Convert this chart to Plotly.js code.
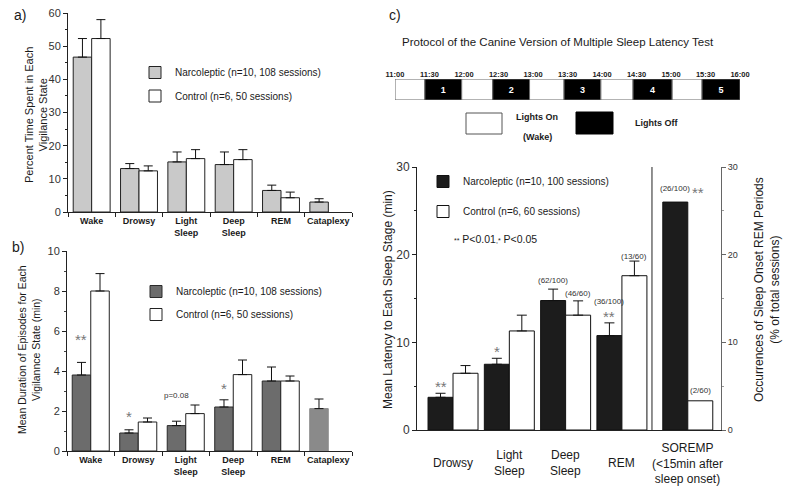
<!DOCTYPE html>
<html>
<head>
<meta charset="utf-8">
<script src="https://cdn.plot.ly/plotly-3.0.1.min.js"></script>
<style>html,body{margin:0;padding:0;background:#fff;}#chart{width:789px;height:489px;}</style>
</head>
<body>
<div id="chart"></div>
<script>
// ---------- data ----------
const statesAB = ['Wake', 'Drowsy', 'Light Sleep', 'Deep Sleep', 'REM', 'Cataplexy'];
const stateLabelsAB = ['Wake', 'Drowsy', 'Light<br>Sleep', 'Deep<br>Sleep', 'REM', 'Cataplexy'];

// panel a: percent time spent in each vigilance state
const narcPct = [46.7, 13.1, 15.1, 14.3, 6.5, 3.0];
const narcPctSem = [5.6, 1.5, 3.0, 3.8, 1.6, 1.0];
const ctrlPct = [52.3, 12.4, 16.1, 15.8, 4.3, null];
const ctrlPctSem = [5.7, 1.5, 2.7, 3.0, 1.7, null];

// panel b: mean duration of episodes (min)
const narcDur = [3.8, 0.9, 1.27, 2.2, 3.5, 2.12];
const narcDurSem = [0.63, 0.16, 0.22, 0.36, 0.7, 0.48];
const ctrlDur = [8.0, 1.45, 1.87, 3.82, 3.5, null];
const ctrlDurSem = [0.87, 0.2, 0.43, 0.73, 0.25, null];

// panel c: mean latency to each sleep stage (min)
const stagesC = ['Drowsy', 'Light Sleep', 'Deep Sleep', 'REM'];
const stageLabelsC = ['Drowsy', 'Light<br>Sleep', 'Deep<br>Sleep', 'REM', 'SOREMP<br>(&lt;15min after<br>sleep onset)'];
const narcLat = [3.73, 7.5, 14.77, 10.77];
const narcLatSem = [0.46, 0.68, 1.3, 1.45];
const ctrlLat = [6.47, 11.3, 13.1, 17.6];
const ctrlLatSem = [0.88, 1.8, 1.63, 1.67];
// SOREMP occurrences (% of total sessions)
const soremp = ['SOREMP'];
const narcSoremp = [26];
const ctrlSoremp = [3.33];

// protocol timeline (minutes after 11:00)
const protoStart = [0, 26, 58, 85, 117, 147, 179, 207, 241, 267];
const protoEnd = [26, 58, 85, 117, 147, 179, 207, 241, 267, 300];
const protoLights = ['on', 'off', 'on', 'off', 'on', 'off', 'on', 'off', 'on', 'off'];
const protoNap = ['', '1', '', '2', '', '3', '', '4', '', '5'];
const timeTickVals = [0, 30, 60, 90, 120, 150, 180, 210, 240, 270, 300];
const timeTickText = ['11:00', '11:30', '12:00', '12:30', '13:00', '13:30', '14:00', '14:30', '15:00', '15:30', '16:00'];

// ---------- helpers ----------
const W = 789, H = 489;
const px = v => v / W;
const py = v => 1 - v / H;
const FONT = 'Liberation Sans, Arial, sans-serif';
const TXT = '#1a1a1a';
const zeros = n => new Array(n).fill(0);

const bwAB = 0.39;
const bwC = 0.444;
const posC = [0, 1, 2, 3];      // category positions on panel c axis
const posSoremp = [4.17];

function errUp(arr, w) {
  return {type: 'data', symmetric: false, array: arr, arrayminus: zeros(arr.length),
          color: '#111', thickness: 1, width: w};
}

const traces = [
  // panel a
  {type: 'bar', x: statesAB, y: narcPct, xaxis: 'x', yaxis: 'y', offset: -bwAB, width: bwAB,
   name: 'Narcoleptic (n=10, 108 sessions)', legend: 'legend', legendgroup: 'a1',
   marker: {color: '#c9c9c9', line: {color: '#222', width: 1}}, error_y: errUp(narcPctSem, 4.5)},
  {type: 'bar', x: statesAB, y: ctrlPct, xaxis: 'x', yaxis: 'y', offset: 0, width: bwAB,
   name: 'Control (n=6, 50 sessions)', legend: 'legend', legendgroup: 'a2',
   marker: {color: '#ffffff', line: {color: '#222', width: 1}}, error_y: errUp(ctrlPctSem, 4.5)},
  // panel b
  {type: 'bar', x: statesAB, y: narcDur, xaxis: 'x2', yaxis: 'y2', offset: -bwAB, width: bwAB,
   name: 'Narcoleptic (n=10, 108 sessions)', legend: 'legend2', legendgroup: 'b1',
   marker: {color: ['#6c6c6c', '#6c6c6c', '#6c6c6c', '#6c6c6c', '#6c6c6c', '#8a8a8a'],
            line: {color: ['#2a2a2a', '#2a2a2a', '#2a2a2a', '#2a2a2a', '#2a2a2a', '#8a8a8a'], width: 1}},
   error_y: errUp(narcDurSem, 4.5)},
  {type: 'bar', x: statesAB, y: ctrlDur, xaxis: 'x2', yaxis: 'y2', offset: 0, width: bwAB,
   name: 'Control (n=6, 50 sessions)', legend: 'legend2', legendgroup: 'b2',
   marker: {color: '#ffffff', line: {color: '#222', width: 1}}, error_y: errUp(ctrlDurSem, 4.5)},
  // panel c
  {type: 'bar', x: posC, y: narcLat, xaxis: 'x3', yaxis: 'y3', offset: -bwC, width: bwC,
   name: 'Narcoleptic (n=10, 100 sessions)', legend: 'legend3', legendgroup: 'c1',
   marker: {color: '#1c1c1c', line: {color: '#111', width: 1}}, error_y: errUp(narcLatSem, 5)},
  {type: 'bar', x: posC, y: ctrlLat, xaxis: 'x3', yaxis: 'y3', offset: 0, width: bwC,
   name: 'Control (n=6, 60 sessions)', legend: 'legend3', legendgroup: 'c2',
   marker: {color: '#ffffff', line: {color: '#111', width: 1}}, error_y: errUp(ctrlLatSem, 5)},
  {type: 'bar', x: posSoremp, y: narcSoremp, xaxis: 'x3', yaxis: 'y4', offset: -bwC, width: bwC,
   name: 'Narcoleptic SOREMP', showlegend: false,
   marker: {color: '#1c1c1c', line: {color: '#111', width: 1}}},
  {type: 'bar', x: posSoremp, y: ctrlSoremp, xaxis: 'x3', yaxis: 'y4', offset: 0, width: bwC,
   name: 'Control SOREMP', showlegend: false,
   marker: {color: '#ffffff', line: {color: '#111', width: 1}}},
  // protocol timeline
  {type: 'bar', orientation: 'h', y: zeros(protoStart.length), base: protoStart,
   x: protoEnd.map((e, i) => e - protoStart[i]), width: 1, xaxis: 'x5', yaxis: 'y5',
   showlegend: false, hoverinfo: 'skip',
   marker: {color: protoLights.map(l => l === 'off' ? '#000000' : '#ffffff'), line: {color: '#666', width: 1}},
   text: protoNap, textposition: 'inside', insidetextanchor: 'middle', textangle: 0,
   textfont: {family: FONT, size: 9, color: '#ffffff', weight: 'bold'}, constraintext: 'none'}
];

const axisLine = {showline: true, linecolor: '#222', linewidth: 1, zeroline: false, showgrid: false};

const annotations = [];
function ann(o) {
  annotations.push(Object.assign({showarrow: false, xanchor: 'center', yanchor: 'middle',
    font: {family: FONT, size: 10, color: TXT}}, o));
}

// panel labels
ann({text: 'a)', xref: 'paper', yref: 'paper', x: px(20), y: py(15), font: {family: FONT, size: 14, color: TXT}});
ann({text: 'b)', xref: 'paper', yref: 'paper', x: px(18), y: py(247), font: {family: FONT, size: 14, color: TXT}});
ann({text: 'c)', xref: 'paper', yref: 'paper', x: px(395), y: py(15), font: {family: FONT, size: 14, color: TXT}});
// axis titles
ann({text: 'Percent Time Spent in Each<br>Vigilance State', xref: 'paper', yref: 'paper', x: px(36), y: py(115),
     textangle: -90, font: {family: FONT, size: 11, color: TXT}});
ann({text: 'Mean Duration of Episodes for Each<br>Vigilannce State (min)', xref: 'paper', yref: 'paper', x: px(29), y: py(350),
     textangle: -90, font: {family: FONT, size: 10.5, color: TXT}});
ann({text: 'Mean Latency to Each Sleep Stage (min)', xref: 'paper', yref: 'paper', x: px(388), y: py(300),
     textangle: -90, font: {family: FONT, size: 12, color: TXT}});
ann({text: 'Occurrences of Sleep Onset REM Periods<br>(% of total sessions)', xref: 'paper', yref: 'paper', x: px(767), y: py(290),
     textangle: -90, font: {family: FONT, size: 12, color: TXT}});
// protocol title
ann({text: 'Protocol of the Canine Version of Multiple Sleep Latency Test', xref: 'paper', yref: 'paper',
     x: px(558), y: py(42), font: {family: FONT, size: 11.5, color: TXT}});
// protocol legend text
ann({text: 'Lights On', xref: 'paper', yref: 'paper', x: px(537), y: py(117), font: {family: FONT, size: 9, color: TXT, weight: 'bold'}});
ann({text: '(Wake)', xref: 'paper', yref: 'paper', x: px(537), y: py(137), font: {family: FONT, size: 9, color: TXT, weight: 'bold'}});
ann({text: 'Lights Off', xref: 'paper', yref: 'paper', x: px(656), y: py(123), font: {family: FONT, size: 9, color: TXT, weight: 'bold'}});

// significance marks panel b
const star = {family: FONT, size: 15, color: '#777'};
ann({text: '**', xref: 'x2', yref: 'y2', x: 0 - bwAB / 2, y: 5.6, font: star});
ann({text: '*', xref: 'x2', yref: 'y2', x: 1 - bwAB / 2, y: 1.72, font: star});
ann({text: 'p=0.08', xref: 'x2', yref: 'y2', x: 2 - bwAB / 2, y: 2.78, font: {family: FONT, size: 8, color: '#333'}});
ann({text: '*', xref: 'x2', yref: 'y2', x: 3 - bwAB / 2, y: 3.13, font: star});

// panel c annotations
const small = {family: FONT, size: 8, color: '#333'};
ann({text: '(62/100)', xref: 'x3', yref: 'y3', x: 2 - bwC / 2, y: 17.0, font: small});
ann({text: '(46/60)', xref: 'x3', yref: 'y3', x: 2 + bwC / 2, y: 15.6, font: small});
ann({text: '(36/100)', xref: 'x3', yref: 'y3', x: 3 - bwC / 2, y: 14.7, font: small});
ann({text: '(13/60)', xref: 'x3', yref: 'y3', x: 3 + bwC / 2, y: 19.84, font: small});
ann({text: '(26/100)', xref: 'x3', yref: 'y4', x: posSoremp[0] - bwC / 2, y: 27.6, font: small});
ann({text: '(2/60)', xref: 'x3', yref: 'y4', x: posSoremp[0] + bwC / 2, y: 4.45, font: small});
ann({text: '**', xref: 'x3', yref: 'y4', x: 4.35, y: 27.1, font: star});
ann({text: '**', xref: 'x3', yref: 'y3', x: 0 - bwC / 2, y: 5.0, font: star});
ann({text: '*', xref: 'x3', yref: 'y3', x: 1 - bwC / 2, y: 8.9, font: star});
ann({text: '**', xref: 'x3', yref: 'y3', x: 3 - bwC / 2, y: 12.9, font: star});
ann({text: '<span style="font-size:7px">**</span> P&lt;0.01<span style="font-size:7px">,*</span> P&lt;0.05',
     xref: 'paper', yref: 'paper', x: px(452), y: py(239), xanchor: 'left', font: {family: FONT, size: 10.5, color: TXT}});
// panel c category labels
stageLabelsC.forEach((t, i) => {
  ann({text: t, xref: 'x3', yref: 'paper', x: i < 4 ? posC[i] : posSoremp[0], y: py(463),
       font: {family: FONT, size: 12, color: TXT}});
});

const shapes = [
  // separator in panel c
  {type: 'line', xref: 'x3', yref: 'y3', x0: 3.534, x1: 3.534, y0: 0, y1: 30, line: {color: '#222', width: 1}},
  // protocol legend boxes
  {type: 'rect', xref: 'paper', yref: 'paper', x0: px(466), x1: px(502), y0: py(134), y1: py(113),
   fillcolor: '#fff', line: {color: '#555', width: 1}},
  {type: 'rect', xref: 'paper', yref: 'paper', x0: px(576), x1: px(613), y0: py(134), y1: py(112),
   fillcolor: '#000', line: {color: '#000', width: 1}}
];

const legendBase = {bgcolor: 'rgba(0,0,0,0)', borderwidth: 0, traceorder: 'grouped', xanchor: 'left', yanchor: 'top',
                    font: {family: FONT, size: 10, color: TXT}};

const layout = {
  width: W, height: H,
  margin: {l: 0, r: 0, t: 0, b: 0},
  paper_bgcolor: '#fff', plot_bgcolor: 'rgba(0,0,0,0)',
  barmode: 'overlay',
  font: {family: FONT, color: TXT},
  showlegend: true,
  legend: Object.assign({}, legendBase, {x: px(135), y: py(58), tracegroupgap: 4.5}),
  legend2: Object.assign({}, legendBase, {x: px(136), y: py(277), tracegroupgap: 4}),
  legend3: Object.assign({}, legendBase, {x: px(423), y: py(167), tracegroupgap: 11}),
  xaxis: Object.assign({}, axisLine, {domain: [px(68), px(352)], anchor: 'y', type: 'category',
    range: [-0.5, 5.5], tickvals: statesAB, ticktext: stateLabelsAB, ticks: 'outside', tickson: 'boundaries',
    tickangle: 0, ticklen: 4, tickcolor: '#222', tickfont: {family: FONT, size: 9, color: TXT, weight: 'bold'}}),
  yaxis: Object.assign({}, axisLine, {domain: [py(212), py(13)], anchor: 'x', range: [0, 60], dtick: 10,
    ticks: 'outside', ticklen: 4, tickcolor: '#222', minor: {dtick: 5, ticklen: 2, ticks: 'outside', tickcolor: '#222'},
    tickfont: {family: FONT, size: 11, color: '#333'}}),
  xaxis2: Object.assign({}, axisLine, {domain: [px(67), px(352)], anchor: 'y2', type: 'category',
    range: [-0.5, 5.5], tickvals: statesAB, ticktext: stateLabelsAB, ticks: 'outside', tickson: 'boundaries',
    tickangle: 0, ticklen: 4, tickcolor: '#222', tickfont: {family: FONT, size: 9, color: TXT, weight: 'bold'}}),
  yaxis2: Object.assign({}, axisLine, {domain: [py(451), py(251)], anchor: 'x2', range: [0, 10], dtick: 2,
    ticks: 'outside', ticklen: 4, tickcolor: '#222', minor: {dtick: 1, ticklen: 2, ticks: 'outside', tickcolor: '#444'},
    tickfont: {family: FONT, size: 11, color: '#333'}}),
  xaxis3: Object.assign({}, axisLine, {domain: [px(417), px(721)], anchor: 'y3', range: [-0.64, 4.76],
    showticklabels: false, ticks: ''}),
  yaxis3: Object.assign({}, axisLine, {domain: [py(430), py(167)], anchor: 'x3', range: [0, 30], dtick: 10,
    ticks: 'outside', ticklen: 4, tickcolor: '#222', minor: {dtick: 5, ticklen: 2, ticks: 'outside', tickcolor: '#222'},
    tickfont: {family: FONT, size: 12, color: '#333'}}),
  yaxis4: Object.assign({}, axisLine, {overlaying: 'y3', side: 'right', anchor: 'x3', range: [0, 30], dtick: 10,
    linecolor: '#666', ticks: 'outside', ticklen: 4, tickcolor: '#666',
    minor: {dtick: 5, ticklen: 2, ticks: 'outside', tickcolor: '#999'},
    tickfont: {family: FONT, size: 9, color: '#333'}}),
  xaxis5: {domain: [px(395), px(740)], anchor: 'y5', range: [0, 300], side: 'top', tickvals: timeTickVals,
    ticktext: timeTickText, ticks: '', showline: false, showgrid: false, zeroline: false, tickangle: 0,
    tickfont: {family: FONT, size: 7.5, color: TXT, weight: 'bold'}},
  yaxis5: {domain: [py(100), py(79)], anchor: 'x5', range: [-0.5, 0.5], visible: false, fixedrange: true},
  annotations: annotations,
  shapes: shapes
};

Plotly.newPlot('chart', traces, layout, {staticPlot: true, displayModeBar: false});
</script>
</body>
</html>
